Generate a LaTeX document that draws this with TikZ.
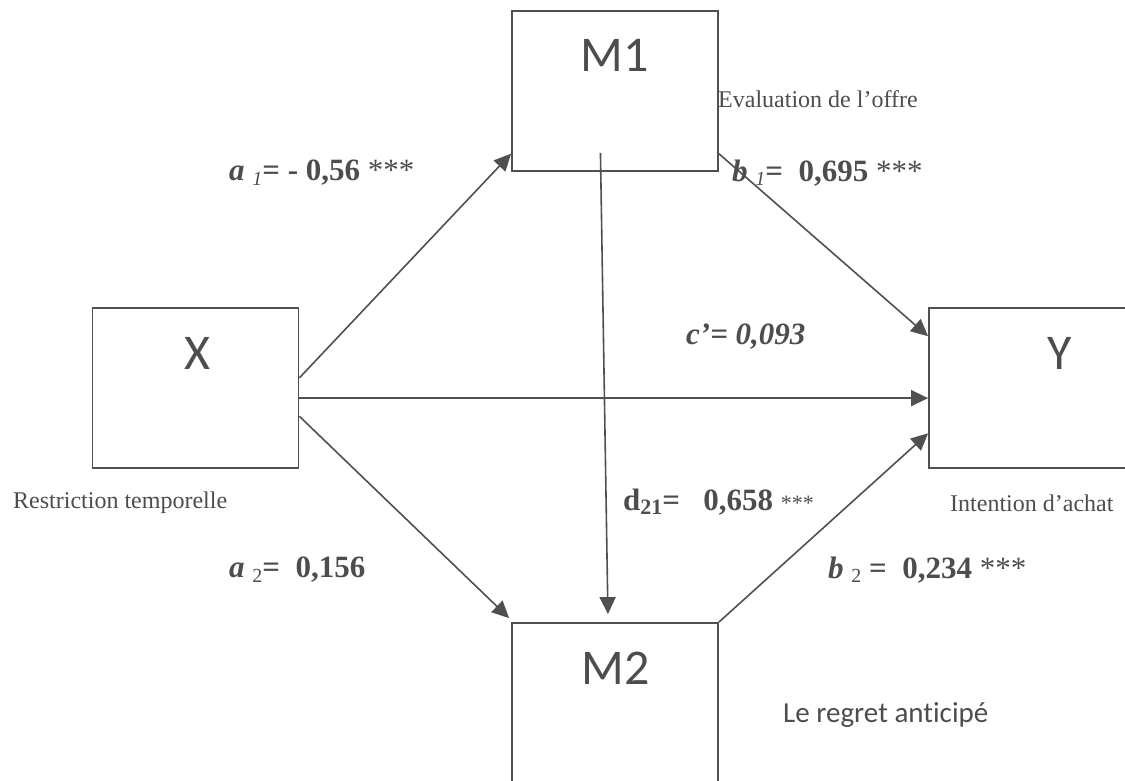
\documentclass[tikz,border=0pt]{standalone}
\usepackage{fontspec}
\setmainfont{Liberation Serif}
\newfontfamily\calib[Ligatures=NoCommon]{Carlito}
\usetikzlibrary{arrows.meta,calc}
\definecolor{ink}{HTML}{505050}
\definecolor{txt}{HTML}{4D4D4D}
\begin{document}
\begin{tikzpicture}[x=1pt,y=-1pt,
 box/.style={draw=ink,line width=1.8pt,minimum width=206pt,minimum height=160pt,inner sep=0pt},
 big/.style={text=txt,font=\calib\fontsize{50}{50}\selectfont,inner sep=0pt},
 desc/.style={text=txt,font=\fontsize{24}{24}\selectfont,inner sep=0pt,anchor=west},
 coef/.style={text=txt,font=\fontsize{31}{31}\selectfont,inner sep=0pt,anchor=west},
 link/.style={draw=ink,line width=1.6pt,-{Triangle[length=17pt,width=16pt]}}]
\useasboundingbox (0,0) rectangle (1125,781);
% boxes
\node[box] (X) at (195.5,388) {};
\node[box] (M1) at (615,91) {};
\node[box] (Y) at (1032,388) {};
\node[box] (M2) at (615,703) {};
\node[big] (Xt) at (197,353) {X};
\node[big] (M1t) at (615,55) {M1};
\node[big] (Yt) at (1060,353) {Y};
\node[big] (M2t) at (616,668) {M2};
% anchor points
\coordinate (xa) at ($(X.north east)!0.4375!(X.south east)$);
\coordinate (xc) at ($(X.north east)!0.5625!(X.south east)$);
\coordinate (xd) at ($(X.north east)!0.675!(X.south east)$);
\coordinate (m1a) at ($(M1.north west)!0.8875!(M1.south west)$);
\coordinate (m1b) at ($(M1.north east)!0.8875!(M1.south east)$);
\coordinate (m1c) at ($(M1.south west)!0.43!(M1.south east)+(0,-19)$);
\coordinate (ya) at ($(Y.north west)!0.18!(Y.south west)$);
\coordinate (yc) at ($(Y.north west)!0.5625!(Y.south west)$);
\coordinate (yd) at ($(Y.north west)!0.78!(Y.south west)$);
\coordinate (m2c) at ($(M2.north west)!0.466!(M2.north east)+(0,-8)$);
\coordinate (m2a) at ($(M2.north west)+(-2,-4)$);
% connectors
\draw[link] (xa) -- (m1a);
\draw[link] (m1b) -- (ya);
\draw[link] (xc) -- (yc);
\draw[link] (xd) -- (m2a);
\draw[link] (M2.north east) -- (yd);
\draw[link] (m1c) -- (m2c);
% coefficients
\node[coef] (a1) at (229,173) {\textbf{\textit{a}} \raisebox{-0.3ex}{\fontsize{20}{20}\selectfont\textit{1}}\textbf{= - 0,56} ***};
\node[coef] (b1) at (732,173) {\textbf{\textit{b}} \raisebox{-0.3ex}{\fontsize{20}{20}\selectfont\textit{1}}\textbf{=\ \ 0,695} ***};
\node[coef] (cp) at (686,337) {\textbf{\textit{c’= 0,093}}};
\node[coef] (d21) at (623,502) {\textbf{d\raisebox{-0.3ex}{\fontsize{22}{22}\selectfont 21}=\ \ \ 0,658} {\fontsize{22}{22}\selectfont ***}};
\node[coef] (a2) at (229,570) {\textbf{\textit{a}} \raisebox{-0.3ex}{\fontsize{20}{20}\selectfont 2}\textbf{=\ \ 0,156}};
\node[coef] (b2) at (828,570) {\textbf{\textit{b}} \raisebox{-0.3ex}{\fontsize{20}{20}\selectfont 2}\textbf{\ =\ \ 0,234} ***};
% descriptions
\node[desc] (rt) at (13,503) {Restriction temporelle};
\node[desc] (ia) at (950,503) {Intention d’achat};
\node[desc] (eo) at (718,99) {Evaluation de l’offre};
\node[desc,font=\calib\fontsize{29}{29}\selectfont] (rg) at (783,715) {Le regret anticipé};
\end{tikzpicture}
\end{document}
